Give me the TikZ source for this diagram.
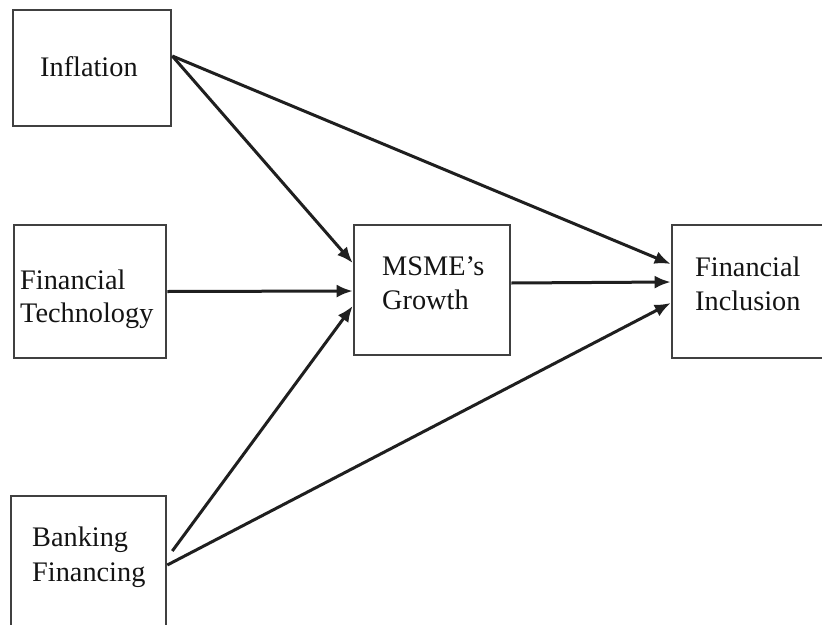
\documentclass[tikz,border=0pt]{standalone}
\usepackage{fontspec}
\setmainfont{Liberation Serif}
\usetikzlibrary{arrows.meta}
\begin{document}
\begin{tikzpicture}[x=1pt,y=-1pt,
  box/.style={draw=black!75,line width=2.6pt,fill=white,minimum width=#1,inner sep=0pt},
  lbl/.style={anchor=base west,inner sep=0pt,font=\fontsize{28.3}{34}\selectfont,text=black!92},
  conn/.style={draw=black!88,line width=3pt,-{Latex[length=16pt,width=13pt]}}]
\clip (0,0) rectangle (822,624);
\fill[white] (0,0) rectangle (822,624);
% boxes
\node[box=158pt,minimum height=116pt] (infl) at (92,68) {};
\node[box=152pt,minimum height=133pt] (fintech) at (90,291.5) {};
\node[box=155pt,minimum height=154pt] (bank) at (88.5,573) {};
\node[box=156pt,minimum height=130pt] (msme) at (432,290) {};
\node[box=158pt,minimum height=133pt] (fi) at (751,291.5) {};
% texts
\node[lbl] (t1) at (40,76) {Inflation};
\node[lbl] (t2a) at (20,289) {Financial};
\node[lbl] (t2b) at (20,322) {Technology};
\node[lbl] (t3a) at (32,546) {Banking};
\node[lbl] (t3b) at (32,581) {Financing};
\node[lbl] (t4a) at (382,275) {MSME’s};
\node[lbl] (t4b) at (382,309) {Growth};
\node[lbl] (t5a) at (695,276) {Financial};
\node[lbl] (t5b) at (695,310) {Inclusion};
% connectors
\draw[conn] ([yshift=12pt]infl.east) -- ([yshift=27pt]msme.west);
\draw[conn] ([yshift=12pt]infl.east) -- ([yshift=27.5pt]fi.west);
\draw[conn] (fintech.east) -- ([yshift=-1pt]msme.west);
\draw[conn] ([xshift=5pt,yshift=22pt]bank.east) -- ([yshift=-16pt]msme.west);
\draw[conn] ([yshift=8pt]bank.east) -- ([yshift=-11.5pt]fi.west);
\draw[conn] ([yshift=7pt]msme.east) -- ([yshift=9.5pt]fi.west);
\end{tikzpicture}
\end{document}
